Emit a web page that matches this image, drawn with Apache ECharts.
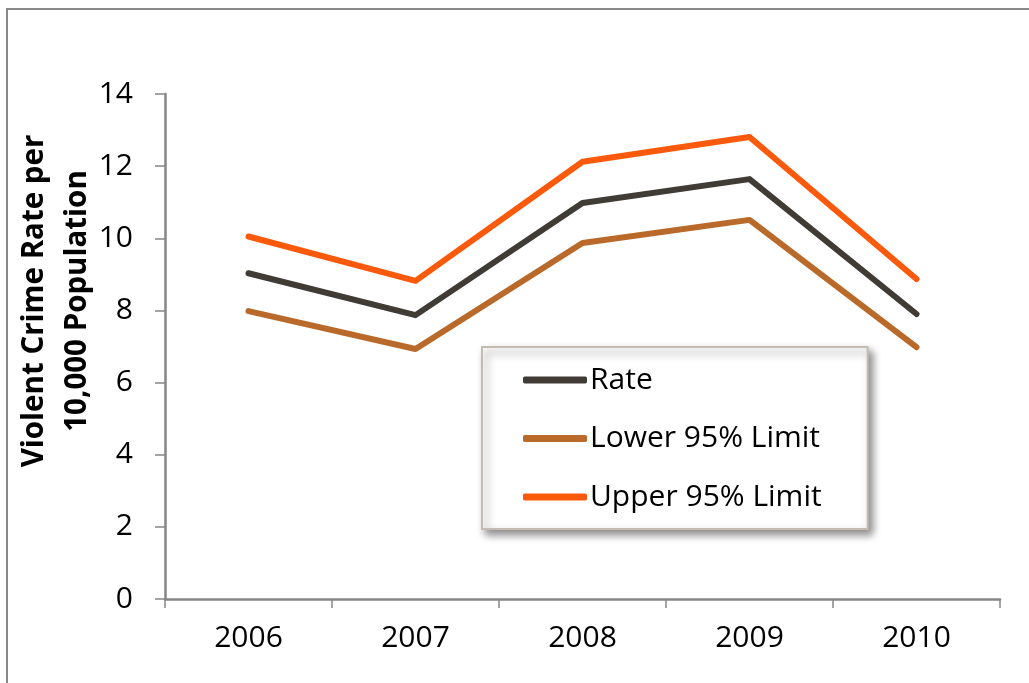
<!DOCTYPE html>
<html>
<head>
<meta charset="utf-8">
<script src="https://cdn.jsdelivr.net/npm/echarts@6/dist/echarts.min.js"></script>
<style>
html,body{margin:0;padding:0;background:#fff;}
#chart{width:1029px;height:683px;}
</style>
</head>
<body>
<div id="chart"></div>
<script>
const years = ['2006', '2007', '2008', '2009', '2010'];
const rateValues = [9.03, 7.87, 10.98, 11.64, 7.90];
const lowerValues = [7.98, 6.93, 9.87, 10.51, 6.98];
const upperValues = [10.05, 8.82, 12.12, 12.81, 8.87];
const seriesNames = ['Rate', 'Lower 95% Limit', 'Upper 95% Limit'];
const yTitle = 'Violent Crime Rate per\n10,000 Population';

const colors = ['#403c35', '#b9692a', '#fb5a0c'];
const font = '"Open Sans", "Noto Sans", sans-serif';
const chart = echarts.init(document.getElementById('chart'));

function mk(name, data, color) {
  return {
    name: name, type: 'line', data: data, symbol: 'none', color: color,
    lineStyle: { color: color, width: 6, cap: 'round', join: 'round' },
    animation: false, z: 3
  };
}

chart.setOption({
  animation: false,
  textStyle: { fontFamily: font },
  grid: { left: 165, right: 29, top: 94, bottom: 84 },
  graphic: [
    { type: 'rect', z: -1, shape: { x: 7, y: 9, width: 1200, height: 1000 },
      style: { fill: 'none', stroke: '#8a8a8a', lineWidth: 2 } },
    { type: 'text', x: 56, y: 301, rotation: Math.PI / 2,
      style: { text: yTitle, fontFamily: font, fontWeight: 'bold', fontSize: 29.5,
               lineHeight: 43, fill: '#000', align: 'center', verticalAlign: 'middle' } }
  ],
  xAxis: {
    type: 'category', data: years, boundaryGap: true,
    axisLine: { lineStyle: { color: '#868686', width: 2.5 } },
    axisTick: { show: true, length: 9, alignWithLabel: false, lineStyle: { color: '#868686', width: 1.5 } },
    axisLabel: { color: '#000', fontSize: 30, fontFamily: font, margin: 24 },
    splitLine: { show: false }
  },
  yAxis: {
    type: 'value', min: 0, max: 14, interval: 2,
    axisLine: { show: true, lineStyle: { color: '#868686', width: 2.5 } },
    axisTick: { show: true, length: 10, lineStyle: { color: '#868686', width: 1.5 } },
    axisLabel: { color: '#000', fontSize: 30, fontFamily: font, margin: 32 },
    splitLine: { show: false }
  },
  legend: {
    orient: 'vertical', left: 482, top: 347,
    data: seriesNames,
    icon: 'roundRect', itemWidth: 64, itemHeight: 7, itemGap: 26.5,
    padding: [17, 46, 16, 41],
    backgroundColor: '#fff', borderColor: '#c4bcb0', borderWidth: 2,
    shadowColor: 'rgba(0,0,0,0.45)', shadowBlur: 8, shadowOffsetX: 4, shadowOffsetY: 5,
    textStyle: { color: '#000', fontSize: 30, fontFamily: font, lineHeight: 32, padding: [0, 0, 0, -2] },
    selectedMode: false
  },
  series: [
    mk(seriesNames[0], rateValues, colors[0]),
    mk(seriesNames[1], lowerValues, colors[1]),
    mk(seriesNames[2], upperValues, colors[2])
  ]
});
</script>
</body>
</html>
